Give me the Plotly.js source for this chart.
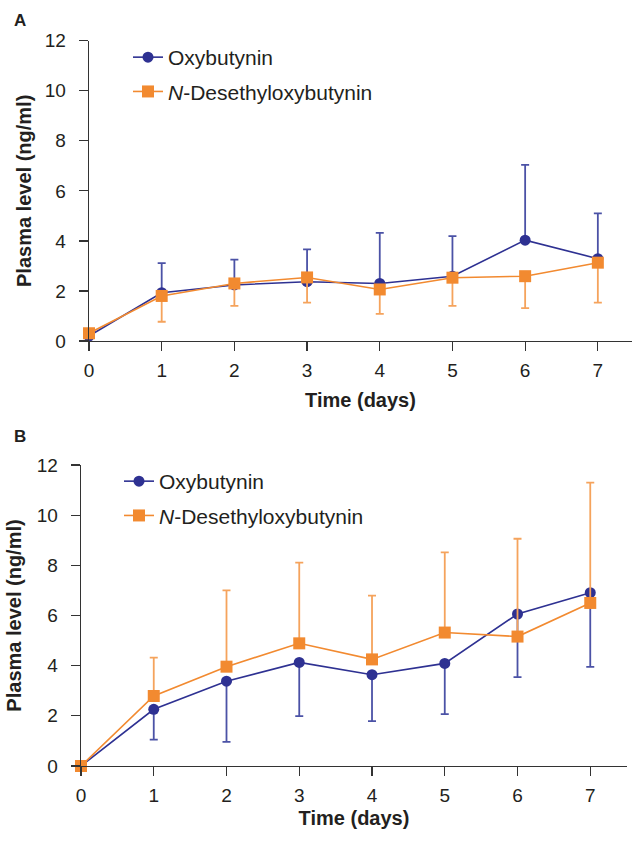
<!DOCTYPE html>
<html>
<head>
<meta charset="utf-8">
<script src="https://cdn.plot.ly/plotly-3.0.1.min.js"></script>
<style>html,body{margin:0;padding:0;background:#fff;}#chart{width:632px;height:855px;}</style>
</head>
<body>
<div id="chart"></div>
<script>
// ---- data ----
const days = [0, 1, 2, 3, 4, 5, 6, 7];
const seriesNames = ["Oxybutynin", "N-Desethyloxybutynin"];
const legendLabels = ["Oxybutynin", "<i>N</i>-Desethyloxybutynin"];
const xTickLabels = ["0", "1", "2", "3", "4", "5", "6", "7"];
const yTickVals = [0, 2, 4, 6, 8, 10, 12];

// Panel A
const oxyA      = [0.2, 1.93, 2.24, 2.37, 2.30, 2.59, 4.03, 3.29];
const oxyAUpper = [0,   3.11, 3.25, 3.66, 4.32, 4.19, 7.04, 5.10];   // top of error bar
const desA      = [0.31, 1.80, 2.30, 2.54, 2.06, 2.53, 2.59, 3.13];
const desALower = [0.31, 0.77, 1.40, 1.53, 1.08, 1.40, 1.31, 1.53];  // bottom of error bar

// Panel B
const oxyB      = [0, 2.26, 3.38, 4.13, 3.64, 4.09, 6.06, 6.91];
const oxyBLower = [0, 1.05, 0.96, 1.99, 1.79, 2.07, 3.54, 3.95];
const desB      = [0, 2.79, 3.96, 4.89, 4.25, 5.32, 5.16, 6.50];
const desBUpper = [0, 4.32, 7.00, 8.11, 6.79, 8.52, 9.06, 11.30];

// ---- styles ----
const BLUE = "#2e3192", BLUE_ERR = "#4b52a6";
const ORANGE = "#f28a30", ORANGE_ERR = "#f5a35c";
const TXT = "#231f20";
const FONT = "Liberation Sans, Arial, Helvetica, sans-serif";

const diff = (a, b) => a.map((v, i) => Math.max(0, v - b[i]));
const zeros = days.map(() => 0);

function tr(label, y, plus, minus, color, errColor, symbol, size, xa, ya, legend, group) {
  return {
    type: "scatter", mode: "lines+markers", name: label,
    x: days, y: y, xaxis: xa, yaxis: ya, legend: legend,
    legendgroup: group, showlegend: true, cliponaxis: false,
    line: {color: color, width: 1.6},
    marker: {color: color, symbol: symbol, size: size},
    error_y: {type: "data", symmetric: false, array: plus, arrayminus: minus,
              color: errColor, thickness: 1.8, width: 4}
  };
}

const data = [
  tr(legendLabels[0], oxyA, diff(oxyAUpper, oxyA), zeros, BLUE, BLUE_ERR, "circle", 11, "x", "y", "legend", "a1"),
  tr(legendLabels[1], desA, zeros, diff(desA, desALower), ORANGE, ORANGE_ERR, "square", 12, "x", "y", "legend", "a2"),
  tr(legendLabels[0], oxyB, zeros, diff(oxyB, oxyBLower), BLUE, BLUE_ERR, "circle", 11, "x2", "y2", "legend2", "b1"),
  tr(legendLabels[1], desB, diff(desBUpper, desB), zeros, ORANGE, ORANGE_ERR, "square", 12, "x2", "y2", "legend2", "b2")
];

const H = 855, W = 632;
function xAxis(d0, d1, r1, anchor, standoff) {
  return {
    domain: [d0 / W, d1 / W], range: [0, r1], anchor: anchor,
    tickvals: days, ticktext: xTickLabels, ticks: "outside", ticklen: 9, tickwidth: 1.2,
    tickcolor: "#333", showline: true, linecolor: "#333", linewidth: 1.4,
    showgrid: false, zeroline: false, automargin: false,
    tickfont: {family: FONT, size: 19, color: TXT}, ticklabelstandoff: 3,
    title: {text: "<b>Time (days)</b>", font: {family: FONT, size: 20, color: TXT}, standoff: standoff}
  };
}
function yAxis(p0, p1, anchor, standoff) {
  return {
    domain: [(H - p0) / H, (H - p1) / H], range: [0, 12], anchor: anchor,
    tickvals: yTickVals, ticks: "outside", ticklen: 9, tickwidth: 1.2,
    tickcolor: "#333", showline: true, linecolor: "#333", linewidth: 1.4,
    showgrid: false, zeroline: false, automargin: false,
    tickfont: {family: FONT, size: 19, color: TXT}, ticklabelstandoff: 9,
    title: {text: "<b>Plasma level (ng/ml)</b>", font: {family: FONT, size: 20, color: TXT}, standoff: standoff}
  };
}

const legendBase = {
  font: {family: FONT, size: 21, color: TXT}, bgcolor: "rgba(0,0,0,0)",
  traceorder: "grouped", tracegroupgap: 4, itemwidth: 30,
  xanchor: "left", yanchor: "top"
};

const layout = {
  width: W, height: H, margin: {l: 0, r: 0, t: 0, b: 0},
  paper_bgcolor: "#fff", plot_bgcolor: "#fff",
  font: {family: FONT, color: TXT},
  xaxis: xAxis(89, 632, 7.47, "y", 12),
  yaxis: yAxis(341, 40.7, "x", 7),
  xaxis2: xAxis(81, 627, 7.505, "y2", 5),
  yaxis2: yAxis(766, 465, "x2", 9),
  legend: Object.assign({}, legendBase, {x: 128 / W, y: (H - 37) / H}),
  legend2: Object.assign({}, legendBase, {x: 119 / W, y: (H - 461) / H}),
  annotations: [
    {text: "<b>A</b>", x: 12 / W, y: (H - 20) / H, xref: "paper", yref: "paper", xanchor: "left", yanchor: "middle", showarrow: false, font: {family: FONT, size: 17, color: TXT}},
    {text: "<b>B</b>", x: 12 / W, y: (H - 437) / H, xref: "paper", yref: "paper", xanchor: "left", yanchor: "middle", showarrow: false, font: {family: FONT, size: 17, color: TXT}}
  ]
};

Plotly.newPlot("chart", data, layout, {staticPlot: true, displayModeBar: false});
</script>
</body>
</html>
